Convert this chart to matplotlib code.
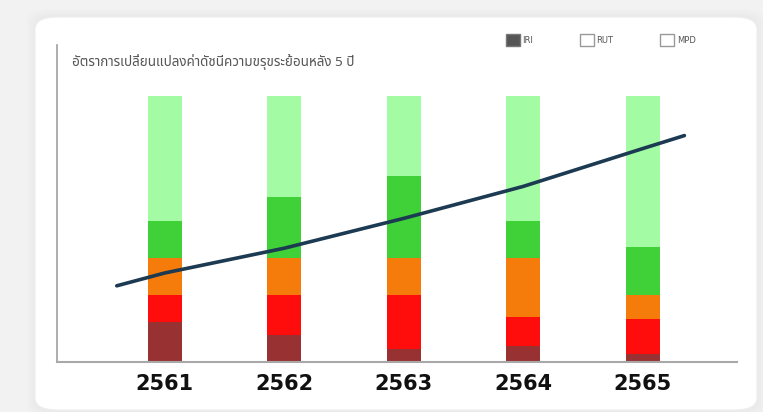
import matplotlib
matplotlib.use('Agg')
import matplotlib.pyplot as plt
import numpy as np
from matplotlib.patches import FancyBboxPatch, Patch

# Data (share of road length, %, bottom to top)
YEARS = ['2561', '2562', '2563', '2564', '2565']
VERY_POOR = [15, 10, 5, 6, 3]
POOR = [10, 15, 20, 11, 13]
FAIR = [14, 14, 14, 22, 9]
GOOD = [14, 23, 31, 14, 18]
VERY_GOOD = [47, 38, 30, 47, 57]

# Trend line (category position, value)
TREND_X = [-0.4, 0, 1, 2, 3, 4, 4.35]
TREND_Y = [28.6, 33.4, 42.7, 53.9, 65.9, 80.1, 85.0]

LEGEND_LABELS = ['IRI', 'RUT', 'MPD']
TITLE = 'อัตราการเปลี่ยนแปลงค่าดัชนีความขรุขระย้อนหลัง 5 ปี'

COLORS = ['#983232', '#ff0c0c', '#f57c0a', '#40d138', '#a3fca3']

fig = plt.figure(figsize=(7.63, 4.12), dpi=100)
fig.patch.set_facecolor('#f2f2f2')

# white rounded panel with soft shadow
W, H = 763, 412
for i, a in enumerate([0.03, 0.03, 0.03, 0.04]):
    pad = 8 - i * 2
    sh = FancyBboxPatch(((35 - pad) / W, (2 - pad) / H), (722 + 2 * pad) / W, (393 + 2 * pad) / H,
                        boxstyle='round,pad=0,rounding_size=0.03', transform=fig.transFigure,
                        facecolor='#bbbbbb', edgecolor='none', alpha=a, zorder=-2)
    fig.patches.append(sh)
panel = FancyBboxPatch((35 / W, 2 / H), 722 / W, 393 / H,
                       boxstyle='round,pad=0,rounding_size=0.03', transform=fig.transFigure,
                       facecolor='white', edgecolor='#eeeeee', linewidth=0.8, zorder=-1)
fig.patches.append(panel)

ax = fig.add_axes([57 / W, 1 - 362 / H, (737 - 57) / W, (362 - 45) / H])
ax.set_facecolor('none')

x = np.arange(len(YEARS))
bottom = np.zeros(len(YEARS))
for vals, c in zip([VERY_POOR, POOR, FAIR, GOOD, VERY_GOOD], COLORS):
    ax.bar(x, vals, width=0.285, bottom=bottom, color=c, edgecolor='none', zorder=2)
    bottom += np.array(vals)

ax.plot(TREND_X, TREND_Y, color='#1c3a52', linewidth=2.6, solid_capstyle='round', zorder=3)

ax.set_xlim(-0.9, 4.79)
ax.set_ylim(0, 119)
ax.set_xticks(x)
ax.set_xticklabels(YEARS, fontsize=15, fontweight='bold', color='#111111')
ax.tick_params(axis='x', length=0, pad=9)
ax.set_yticks([])
for s in ['top', 'right']:
    ax.spines[s].set_visible(False)
ax.spines['left'].set_color('#a0a0a0')
ax.spines['bottom'].set_color('#a8a8a8')
ax.spines['left'].set_linewidth(1.2)
ax.spines['bottom'].set_linewidth(1.5)

fig.text(72 / W, 1 - 62 / H, TITLE, fontsize=9.7, color='#555555', va='center', ha='left',
         family=['Noto Sans Thai', 'Loma', 'Tahoma', 'DejaVu Sans'])

handles = [Patch(facecolor='#555555', edgecolor='#777777', label=LEGEND_LABELS[0]),
           Patch(facecolor='white', edgecolor='#999999', label=LEGEND_LABELS[1]),
           Patch(facecolor='white', edgecolor='#999999', label=LEGEND_LABELS[2])]
fig.legend(handles=handles, loc='center left', bbox_to_anchor=(498 / W, 1 - 40 / H), ncol=3,
           frameon=False, fontsize=6, handlelength=1.7, handleheight=1.7, handletextpad=0.3,
           columnspacing=5.6, labelcolor='#555555')

fig.savefig('out.png', dpi=100, facecolor=fig.get_facecolor())
